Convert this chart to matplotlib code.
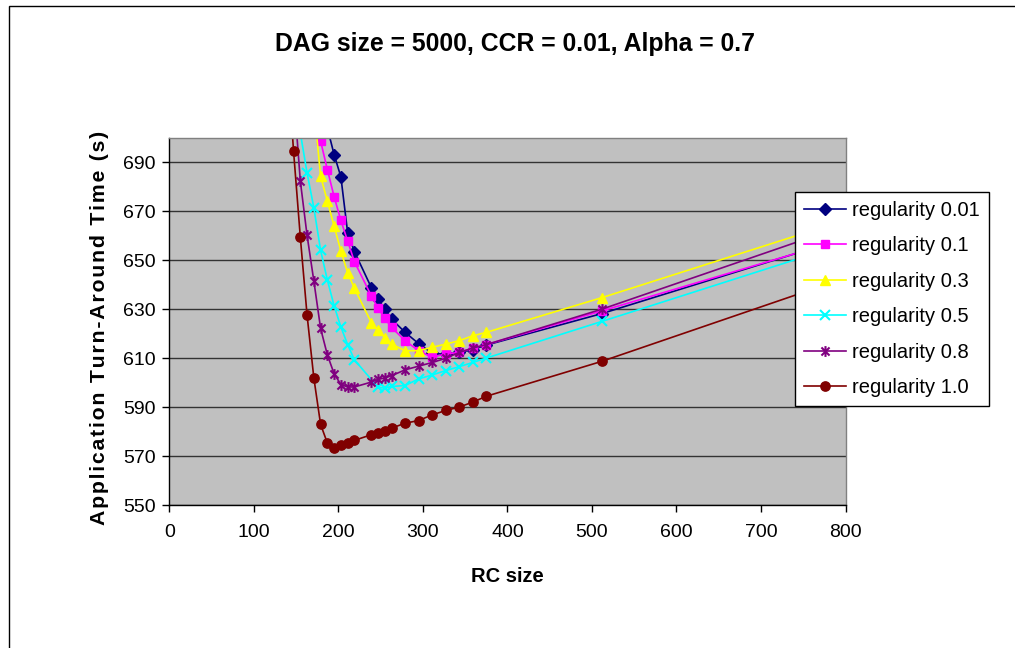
import numpy as np
import matplotlib
matplotlib.use("Agg")
import matplotlib.pyplot as plt
from matplotlib.path import Path
from matplotlib.patches import Rectangle

plt.rcParams['font.family'] = ['Liberation Sans', 'DejaVu Sans']

# ---- data ----
rc_sizes = [139, 147, 155, 163, 171, 179, 187, 195, 203, 211, 219, 239, 247,
            255, 263, 279, 295, 311, 327, 343, 359, 375, 512, 1024]
nan = np.nan
reg_001 = [nan, nan, nan, nan, nan, nan, 704, 693.1, 684, 661.2, 653.5, 638.8, 634,
           630, 625.9, 620.5, 615.9, 612, 611.5, 612.3, 613.5, 615.3, 628.2, 683]
reg_01 = [nan, nan, nan, nan, 712, 698.6, 687, 675.9, 666.2, 657.8, 649.4, 635.4, 630.4,
          626.3, 622.5, 617.1, 613, 610.3, 611.7, 612.3, 614.1, 615.5, 629.3, 681.7]
reg_03 = [nan, nan, nan, nan, 713, 684.3, 674.1, 663.9, 653.7, 644.9, 638.5, 624.5, 621.3,
          618.3, 615.7, 613, 613, 614.4, 615.7, 617.1, 619.1, 620.5, 634.7, 691]
reg_05 = [nan, nan, 702, 685.6, 671.4, 654, 641.9, 631.3, 622.7, 615.5, 609.3, nan, 598,
          597.8, 598.4, 598.8, 601.5, 603.1, 604.9, 606.5, 608.2, 610, 625, 681.4]
reg_08 = [nan, 719, 682.3, 660.1, 641.5, 622.1, 611.3, 603.6, 599.2, 598.2, 598.2, 600.2, 601.3,
          601.9, 602.8, 605.2, 606.7, 608.2, 609.9, 612.3, 614.1, 615.5, 630, 690.8]
reg_10 = [735, 694.5, 659.4, 627.5, 601.9, 582.9, 575.3, 573.4, 574.3, 575.3, 576.4, 578.7, 579.3,
          580.4, 581.4, 583.4, 584.5, 586.8, 588.6, 590, 592, 594.4, 608.7, 669.2]
labels = ["regularity 0.01", "regularity 0.1", "regularity 0.3",
          "regularity 0.5", "regularity 0.8", "regularity 1.0"]
y_ticks = [550, 570, 590, 610, 630, 650, 670, 690]
x_ticks = [0, 100, 200, 300, 400, 500, 600, 700, 800]

# asterisk marker (x plus vertical bar)
ast = Path([(-0.75, -0.75), (0.75, 0.75), (-0.75, 0.75), (0.75, -0.75), (0, -1), (0, 1)],
           [Path.MOVETO, Path.LINETO, Path.MOVETO, Path.LINETO, Path.MOVETO, Path.LINETO])

styles = [
    dict(color='#000080', marker='D', ms=6.3, mfc='#000080', mec='#000080'),
    dict(color='#FF00FF', marker='s', ms=6.4, mfc='#FF00FF', mec='#FF00FF'),
    dict(color='#FFFF00', marker='^', ms=7.8, mfc='#FFFF00', mec='#FFFF00'),
    dict(color='#00FFFF', marker='x', ms=7.2, mew=1.5, mec='#00FFFF'),
    dict(color='#800080', marker=ast, ms=7.8, mew=1.5, mfc='none', mec='#800080'),
    dict(color='#800000', marker='o', ms=6.7, mfc='#800000', mec='#800000'),
]

W, H = 1015, 648
fig = plt.figure(figsize=(W / 100, H / 100), dpi=100)
L, R, T, B = 169.3, 845.5, 137.7, 505.0
ax = fig.add_axes([L / W, 1 - B / H, (R - L) / W, (B - T) / H])
ax.set_facecolor('#C0C0C0')

x_arr = np.array(rc_sizes, dtype=float)
for series, lab, st in zip([reg_001, reg_01, reg_03, reg_05, reg_08, reg_10], labels, styles):
    y = np.array(series, dtype=float)
    m = ~np.isnan(y)
    ax.plot(x_arr[m], y[m], lw=1.2, label=lab, **st)

ax.set_xlim(0, 800)
ax.set_ylim(550, 700)
ax.set_xticks(x_ticks)
ax.set_yticks(y_ticks)
ax.tick_params(axis='both', direction='out', length=5, width=1, colors='black', labelsize=14)
ax.tick_params(axis='x', pad=9)
ax.tick_params(axis='y', pad=5)
ax.yaxis.grid(True, color='#333333', lw=1.0)
ax.set_axisbelow(True)
for s in ['top', 'right']:
    ax.spines[s].set_color('#808080')
    ax.spines[s].set_linewidth(1.0)
for s in ['left', 'bottom']:
    ax.spines[s].set_color('#000000')
    ax.spines[s].set_linewidth(1.0)

xl = ax.set_xlabel("RC size", fontsize=14.5, fontweight='bold')
xl.set_va('center')
ax.xaxis.set_label_coords(0.5, (B - 577) / (B - T))

ylab = "\u200a".join("Application Turn-Around Time (s)")
yl = ax.set_ylabel(ylab, fontsize=15.3, fontweight='bold')
yl.set_va('center')
ax.yaxis.set_label_coords((100 - L) / (R - L), (B - 328) / (B - T))

fig.text(514.6 / W, 1 - 44 / H, "DAG size = 5000, CCR = 0.01, Alpha = 0.7",
         ha='center', va='center', fontsize=17.8, fontweight='bold')

leg = ax.legend(loc='upper left', bbox_to_anchor=(795 / W, 1 - 191.7 / H),
                bbox_transform=fig.transFigure, borderaxespad=0, fontsize=14.5,
                frameon=True, fancybox=False, framealpha=1, edgecolor='black',
                handlelength=2.1, handletextpad=0.3, labelspacing=0.82,
                borderpad=0.45, numpoints=1)
leg.get_frame().set_linewidth(1.0)

fig.patches.append(Rectangle((9 / W, -0.5), 2.0, 0.5 + 1 - 6 / H, transform=fig.transFigure,
                             fill=False, edgecolor='black', lw=1.0, figure=fig))

fig.savefig("out.png", dpi=100)
